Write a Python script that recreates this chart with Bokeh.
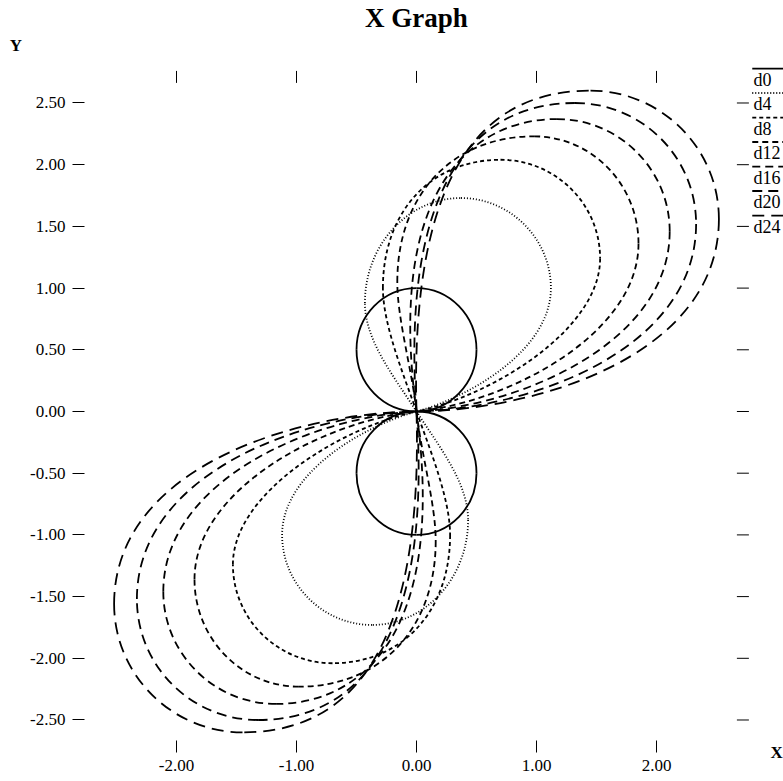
from bokeh.plotting import figure
from bokeh.models import Range1d, LinearAxis, FixedTicker, PrintfTickFormatter
from bokeh.core.properties import value
from bokeh.embed import file_html
from bokeh.resources import INLINE

# ---------------- data ----------------
series_names = ["d0", "d4", "d8", "d12", "d16", "d20", "d24"]
x_ticks = [-2.0, -1.0, 0.0, 1.0, 2.0]
y_ticks = [-2.5, -2.0, -1.5, -1.0, -0.5, 0.0, 0.5, 1.0, 1.5, 2.0, 2.5]

# Each curve is a closed figure-eight through the origin, given as a cubic
# Bezier path: anchor, control, control, anchor, control, control, anchor ...
d0_x = [0, -0.276, -0.5, -0.5, -0.5, -0.276, 0, 0.276, 0.5, 0.5, 0.5, 0.276, 0,
        0.276, 0.5, 0.5, 0.5, 0.276, 0, -0.276, -0.5, -0.5, -0.5, -0.276, 0]
d0_y = [0, 0, 0.224, 0.5, 0.776, 1.0, 1.0, 1.0, 0.776, 0.5, 0.224, 0, 0,
        0, -0.224, -0.5, -0.776, -1.0, -1.0, -1.0, -0.776, -0.5, -0.224, 0, 0]

d4_x = [0, -0.2, -0.43, -0.43, -0.43, -0.07, 0.37, 0.78, 1.12, 1.12, 1.12, 0.45, 0,
        0.2, 0.43, 0.43, 0.43, 0.07, -0.37, -0.78, -1.12, -1.12, -1.12, -0.45, 0]
d4_y = [0, 0.3, 0.58, 0.88, 1.35, 1.73, 1.73, 1.73, 1.40, 1.0, 0.5, 0.12, 0,
        -0.3, -0.58, -0.88, -1.35, -1.73, -1.73, -1.73, -1.40, -1.0, -0.5, -0.12, 0]

d8_x = [0, -0.10, -0.28, -0.28, -0.28, 0.12, 0.70, 1.16, 1.53, 1.53, 1.53, 0.60, 0,
        0.10, 0.28, 0.28, 0.28, -0.12, -0.70, -1.16, -1.53, -1.53, -1.53, -0.60, 0]
d8_y = [0, 0.28, 0.70, 1.0, 1.62, 2.04, 2.04, 2.04, 1.68, 1.24, 0.65, 0.12, 0,
        -0.28, -0.70, -1.0, -1.62, -2.04, -2.04, -2.04, -1.68, -1.24, -0.65, -0.12, 0]

d12_x = [0, -0.04, -0.16, -0.16, -0.16, 0.30, 0.98, 1.46, 1.85, 1.85, 1.85, 0.75, 0,
         0.04, 0.16, 0.16, 0.16, -0.30, -0.98, -1.46, -1.85, -1.85, -1.85, -0.75, 0]
d12_y = [0, 0.35, 0.75, 1.05, 1.76, 2.23, 2.23, 2.23, 1.84, 1.36, 0.62, 0.07, 0,
         -0.35, -0.75, -1.05, -1.76, -2.23, -2.23, -2.23, -1.84, -1.36, -0.62, -0.07, 0]

d16_x = [0, -0.26, 0.50, 1.17, 1.69, 2.11, 2.11, 2.11, 0.85, 0,
         0.26, -0.50, -1.17, -1.69, -2.11, -2.11, -2.11, -0.85, 0]
d16_y = [0, 1.85, 2.37, 2.37, 2.37, 1.96, 1.46, 0.55, 0.04, 0,
         -1.85, -2.37, -2.37, -2.37, -1.96, -1.46, -0.55, -0.04, 0]

d20_x = [0, -0.14, 0.56, 1.32, 1.88, 2.33, 2.33, 2.33, 0.95, 0,
         0.14, -0.56, -1.32, -1.88, -2.33, -2.33, -2.33, -0.95, 0]
d20_y = [0, 1.95, 2.50, 2.50, 2.50, 2.06, 1.52, 0.50, 0.02, 0,
         -1.95, -2.50, -2.50, -2.50, -2.06, -1.52, -0.50, -0.02, 0]

d24_x = [0, -0.06, 0.62, 1.45, 2.04, 2.52, 2.52, 2.52, 1.00, 0,
         0.06, -0.62, -1.45, -2.04, -2.52, -2.52, -2.52, -1.00, 0]
d24_y = [0, 2.05, 2.60, 2.60, 2.60, 2.13, 1.56, 0.45, 0.01, 0,
         -2.05, -2.60, -2.60, -2.60, -2.13, -1.56, -0.45, -0.01, 0]

curves = [(d0_x, d0_y), (d4_x, d4_y), (d8_x, d8_y), (d12_x, d12_y),
          (d16_x, d16_y), (d20_x, d20_y), (d24_x, d24_y)]

# data window of the graph (where the tick marks sit)
x_lo, x_hi = -2.867, 2.77
y_lo, y_hi = -2.76, 2.76

# ---------------- styles ----------------
dashes = ["solid", "1 2", "4 3", "6 4", "8 5", "10 6", "12 7"]
SERIF = "Liberation Serif"
LW = 1.8
TICK_X = 0.10   # tick length in x units (12 px)
TICK_Y = 0.097  # tick length in y units (12 px)

# the whole page is the plotting area; the graph's window sits inside it
p = figure(width=783, height=781,
           x_range=Range1d(-3.4667, 3.0583), y_range=Range1d(-2.9984, 3.3306),
           x_axis_type=None, y_axis_type=None,
           output_backend="svg", toolbar_location=None, min_border=0)
p.outline_line_color = None
p.background_fill_color = "white"
p.border_fill_color = "white"


def make_axis(loc, standoff):
    return LinearAxis(fixed_location=loc,
                      formatter=PrintfTickFormatter(format="%.2f"),
                      major_tick_in=12, major_tick_out=0,
                      minor_tick_in=0, minor_tick_out=0,
                      major_tick_line_color="black", major_tick_line_width=1,
                      axis_line_color=None,
                      major_label_standoff=standoff,
                      major_label_text_font=SERIF,
                      major_label_text_font_size="17px",
                      major_label_text_color="black")


xb = make_axis(y_lo, 8)
xb.ticker = FixedTicker(ticks=x_ticks)
p.add_layout(xb, "below")
yl = make_axis(x_lo, 7)
yl.ticker = FixedTicker(ticks=y_ticks)
p.add_layout(yl, "left")

# tick marks on the top and right edges of the window
p.segment(x0=x_ticks, y0=[y_hi] * len(x_ticks), x1=x_ticks, y1=[y_hi - TICK_Y] * len(x_ticks),
          line_color="black", line_width=1)
p.segment(x0=[x_hi] * len(y_ticks), y0=y_ticks, x1=[x_hi - TICK_X] * len(y_ticks), y1=y_ticks,
          line_color="black", line_width=1)

for (xs, ys), dash in zip(curves, dashes):
    p.bezier(x0=xs[0:-1:3], y0=ys[0:-1:3],
             cx0=xs[1::3], cy0=ys[1::3],
             cx1=xs[2::3], cy1=ys[2::3],
             x1=xs[3::3], y1=ys[3::3],
             line_color="black", line_width=LW, line_dash=dash)

# title and axis names
p.text(x=[0.0], y=[3.185], text=["X Graph"], text_align="center",
       text_baseline="middle", text_font=value(SERIF),
       text_font_size=value("27px"), text_font_style="bold", text_color="black")
p.text(x=[-3.39], y=[2.966], text=["Y"], text_align="left",
       text_baseline="middle", text_font=value(SERIF),
       text_font_size=value("17px"), text_font_style="bold", text_color="black")
p.text(x=[2.95], y=[-2.763], text=["X"], text_align="left",
       text_baseline="middle", text_font=value(SERIF),
       text_font_size=value("17px"), text_font_style="bold", text_color="black")

# legend: each name with its line style drawn just above it
legend_x = 2.808
legend_y = [2.690, 2.492, 2.293, 2.095, 1.896, 1.698, 1.499]
p.text(x=[legend_x] * len(series_names), y=legend_y, text=series_names,
       text_align="left", text_baseline="middle", text_font=value(SERIF),
       text_font_size=value("18px"), text_color="black")
for dash, ty in zip(dashes, legend_y):
    p.line(x=[legend_x - 0.01, 3.2], y=[ty + 0.089, ty + 0.089],
           line_color="black", line_width=LW, line_dash=dash)

open("out.html", "w").write(file_html(p, INLINE))
